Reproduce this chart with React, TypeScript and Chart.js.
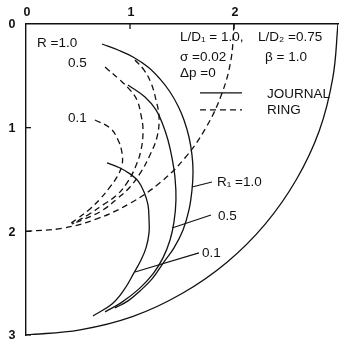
import React, { useEffect, useRef } from 'react';
import { Chart, registerables } from 'chart.js';

Chart.register(...registerables);

// Axis ticks
const xTickValues = [0, 1, 2, 3];
const xTickLabels = ['0', '1', '2', ''];
const yTickValues = [0, 1, 2, 3];
const yTickLabels = ['0', '1', '2', '3'];

// Outer boundary circle (radius 3) and ring dashed circle (radius 2)
const outerX = [0, 0.52, 1.03, 1.5, 1.93, 2.3, 2.6, 2.82, 2.95, 3.0];
const outerY = [3.0, 2.95, 2.82, 2.6, 2.3, 1.93, 1.5, 1.03, 0.52, 0];
const ringCircleX = [0, 0.35, 0.68, 1.0, 1.29, 1.53, 1.73, 1.88, 1.97, 2.0];
const ringCircleY = [2.0, 1.97, 1.88, 1.73, 1.53, 1.29, 1.0, 0.68, 0.35, 0];

// Journal loci (solid)
const journal10X = [0.731, 0.885, 1.029, 1.173, 1.288, 1.385, 1.462, 1.519, 1.567, 1.596, 1.606, 1.596, 1.567, 1.51, 1.423, 1.327, 1.212, 1.096, 0.981, 0.856];
const journal10Y = [0.193, 0.251, 0.318, 0.415, 0.53, 0.656, 0.791, 0.926, 1.09, 1.263, 1.427, 1.601, 1.794, 1.987, 2.16, 2.295, 2.459, 2.575, 2.671, 2.739];
const journal05X = [0.981, 1.144, 1.25, 1.317, 1.365, 1.404, 1.433, 1.442, 1.423, 1.385, 1.317, 1.221, 1.087, 0.913, 0.76];
const journal05Y = [0.588, 0.704, 0.829, 0.974, 1.119, 1.292, 1.485, 1.697, 1.909, 2.083, 2.256, 2.411, 2.555, 2.69, 2.777];
const journal01X = [0.779, 0.904, 1.0, 1.077, 1.135, 1.173, 1.183, 1.183, 1.154, 1.106, 1.038, 0.942, 0.827, 0.644];
const journal01Y = [1.34, 1.389, 1.446, 1.514, 1.62, 1.745, 1.89, 2.015, 2.16, 2.276, 2.401, 2.565, 2.7, 2.816];

// Ring loci (dashed)
const ring10X = [1.048, 1.135, 1.202, 1.25, 1.279, 1.26, 1.192, 1.106, 1.0, 0.885, 0.74, 0.567, 0.442];
const ring10Y = [0.347, 0.444, 0.569, 0.733, 0.897, 1.09, 1.263, 1.427, 1.572, 1.678, 1.794, 1.88, 1.929];
const ring05X = [0.76, 0.904, 1.0, 1.067, 1.106, 1.125, 1.106, 1.048, 0.971, 0.875, 0.74, 0.596, 0.442];
const ring05Y = [0.415, 0.54, 0.636, 0.733, 0.878, 1.022, 1.215, 1.389, 1.533, 1.649, 1.745, 1.842, 1.929];
const ring01X = [0.663, 0.808, 0.885, 0.923, 0.923, 0.875, 0.808, 0.712, 0.615, 0.49, 0.423];
const ring01Y = [0.926, 1.003, 1.119, 1.244, 1.36, 1.475, 1.572, 1.688, 1.784, 1.88, 1.929];

// Label leader lines
const leader10X = [1.596, 1.788];
const leader10Y = [1.572, 1.524];
const leader05X = [1.404, 1.779];
const leader05Y = [1.967, 1.842];
const leader01X = [1.048, 1.663];
const leader01Y = [2.392, 2.208];

// Legend sample lines
const legendSolidX = [1.673, 2.077];
const legendSolidY = [0.665, 0.665];
const legendDashX = [1.673, 2.077];
const legendDashY = [0.829, 0.829];

// Text annotations
const annoTexts = ['R =1.0', '0.5', '0.1', 'L/D\u2081 = 1.0,', 'L/D\u2082 =0.75', '\u03c3 =0.02', '\u03b2 = 1.0', '\u0394p =0', 'JOURNAL', 'RING', 'R\u2081 =1.0', '0.5', '0.1'];
const annoX = [0.106, 0.404, 0.404, 1.481, 2.231, 1.481, 2.298, 1.481, 2.317, 2.317, 1.837, 1.846, 1.692];
const annoY = [0.183, 0.376, 0.906, 0.125, 0.125, 0.318, 0.318, 0.473, 0.68, 0.835, 1.524, 1.851, 2.208];

const pts = (xs: number[], ys: number[]) => xs.map((x, i) => ({ x, y: ys[i] }));

const FONT = '13.5px "Liberation Sans", Arial, sans-serif';
const TICK_FONT = 'bold 12.5px "Liberation Sans", Arial, sans-serif';
const INK = '#111';

const solid = (xs: number[], ys: number[], tension = 0.4, width = 1.3) => ({
  data: pts(xs, ys),
  showLine: true,
  borderColor: INK,
  borderWidth: width,
  pointRadius: 0,
  tension,
  fill: false,
});
const dashed = (xs: number[], ys: number[], tension = 0.4) => ({
  ...solid(xs, ys, tension),
  borderDash: [6, 4],
});

const annotPlugin = {
  id: 'annot',
  afterDatasetsDraw(chart: any) {
    const { ctx, scales, chartArea } = chart;
    const xs = scales.x;
    const ys = scales.y;
    ctx.save();
    ctx.strokeStyle = INK;
    ctx.lineWidth = 1.3;
    // inward tick marks
    xTickValues.forEach((v) => {
      if (v === 0 || v === 3) return;
      const px = xs.getPixelForValue(v);
      ctx.beginPath();
      ctx.moveTo(px, chartArea.top);
      ctx.lineTo(px, chartArea.top + 5);
      ctx.stroke();
    });
    yTickValues.forEach((v) => {
      if (v === 0) return;
      const py = ys.getPixelForValue(v);
      ctx.beginPath();
      ctx.moveTo(chartArea.left, py);
      ctx.lineTo(chartArea.left + 5, py);
      ctx.stroke();
    });
    ctx.fillStyle = INK;
    // tick labels
    ctx.font = TICK_FONT;
    ctx.textAlign = 'center';
    ctx.textBaseline = 'middle';
    xTickValues.forEach((v, i) => {
      ctx.fillText(xTickLabels[i], xs.getPixelForValue(v) + 1, chartArea.top - 11);
    });
    yTickValues.forEach((v, i) => {
      ctx.fillText(yTickLabels[i], chartArea.left - 14, ys.getPixelForValue(v) + 1);
    });
    // annotations
    ctx.font = FONT;
    ctx.textAlign = 'left';
    annoTexts.forEach((t, i) => {
      ctx.fillText(t, xs.getPixelForValue(annoX[i]), ys.getPixelForValue(annoY[i]));
    });
    ctx.restore();
  },
};

export default function App() {
  const ref = useRef<HTMLCanvasElement | null>(null);
  useEffect(() => {
    if (!ref.current) return;
    const chart = new Chart(ref.current, {
      type: 'scatter',
      data: {
        datasets: [
          solid(outerX, outerY),
          dashed(ringCircleX, ringCircleY),
          solid(journal10X, journal10Y),
          solid(journal05X, journal05Y),
          solid(journal01X, journal01Y),
          dashed(ring10X, ring10Y),
          dashed(ring05X, ring05Y),
          dashed(ring01X, ring01Y),
          solid(leader10X, leader10Y, 0, 1.1),
          solid(leader05X, leader05Y, 0, 1.1),
          solid(leader01X, leader01Y, 0, 1.1),
          solid(legendSolidX, legendSolidY, 0),
          dashed(legendDashX, legendDashY, 0),
        ] as any,
      },
      options: {
        animation: false,
        responsive: false,
        maintainAspectRatio: false,
        layout: { padding: { left: 0, top: 0, right: 3, bottom: 10 } },
        plugins: { legend: { display: false }, tooltip: { enabled: false } },
        scales: {
          x: {
            type: 'linear',
            position: 'top',
            min: 0,
            max: 3,
            afterFit: (s: any) => { s.height = 24; },
            ticks: { display: false, stepSize: 1 },
            grid: { display: false },
            border: { display: true, color: INK, width: 1.4 },
          },
          y: {
            type: 'linear',
            reverse: true,
            min: 0,
            max: 3,
            afterFit: (s: any) => { s.width = 26; },
            ticks: { display: false, stepSize: 1 },
            grid: { display: false },
            border: { display: true, color: INK, width: 1.4 },
          },
        },
      } as any,
      plugins: [annotPlugin],
    });
    return () => chart.destroy();
  }, []);
  return (
    <div style={{ position: 'fixed', left: 0, top: 0, width: 341, height: 345, background: '#fff' }}>
      <canvas ref={ref} width={341} height={345} style={{ width: 341, height: 345 }} />
    </div>
  );
}
